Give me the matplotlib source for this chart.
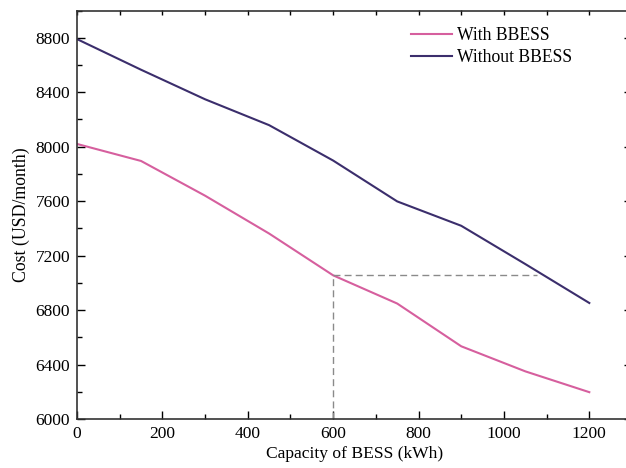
import matplotlib
matplotlib.use("Agg")
import matplotlib.pyplot as plt
from matplotlib.ticker import MultipleLocator

plt.rcParams['font.family'] = ['Liberation Serif', 'DejaVu Serif']

capacity = [0, 150, 300, 450, 600, 750, 900, 1050, 1200]
with_bbess = [8020, 7895, 7640, 7362, 7055, 6848, 6534, 6350, 6197]
without_bbess = [8790, 8565, 8348, 8158, 7898, 7598, 7419, 7138, 6852]
labels = ["With BBESS", "Without BBESS"]
ref_x = [600, 1077]
ref_y = 7055

fig = plt.figure(figsize=(6.26, 4.68), dpi=100)
ax = fig.add_axes([77/626, 49/468, 555/626, 408.5/468])

ax.plot(capacity, with_bbess, color="#d65f9e", lw=1.5, label=labels[0])
ax.plot(capacity, without_bbess, color="#3b2e6c", lw=1.5, label=labels[1])
ax.plot([ref_x[0], ref_x[0]], [6000, ref_y], color="#8a8a8a", lw=1.0, ls=(0, (5, 3)))
ax.plot(ref_x, [ref_y, ref_y], color="#8a8a8a", lw=1.0, ls=(0, (5, 3)))

ax.set_xlim(0, 1300)
ax.set_ylim(6000, 9000)
ax.xaxis.set_major_locator(MultipleLocator(200))
ax.xaxis.set_minor_locator(MultipleLocator(100))
ax.yaxis.set_major_locator(MultipleLocator(400))
ax.yaxis.set_minor_locator(MultipleLocator(200))
ax.set_yticks([6000, 6400, 6800, 7200, 7600, 8000, 8400, 8800])

ax.tick_params(which='major', direction='in', length=6, width=1, labelsize=12.5, top=False, right=True, pad=5)
ax.tick_params(which='minor', direction='in', length=3.5, width=1, top=False, right=False)
ax.tick_params(axis='y', which='major', right=True, length=6)

# top ticks every 100 (short)
sec = ax.secondary_xaxis('top')
sec.set_xticks(list(range(0, 1301, 100)))
sec.tick_params(direction='in', length=3.5, width=1, labeltop=False)
sec.spines['top'].set_visible(False)

for s in ax.spines.values():
    s.set_linewidth(1.2)
    s.set_color("#333333")

ax.set_xlabel("Capacity of BESS (kWh)", fontsize=12.6, labelpad=3)
ax.set_ylabel("Cost (USD/month)", fontsize=12.8, labelpad=4)

ax.legend(loc='upper left', bbox_to_anchor=(411/626, 1 - 27/468), bbox_transform=fig.transFigure,
          frameon=False, fontsize=12.7, handlelength=2.3, handletextpad=0.3, labelspacing=0.3,
          borderpad=0, borderaxespad=0)

fig.savefig("out.png", dpi=100)
